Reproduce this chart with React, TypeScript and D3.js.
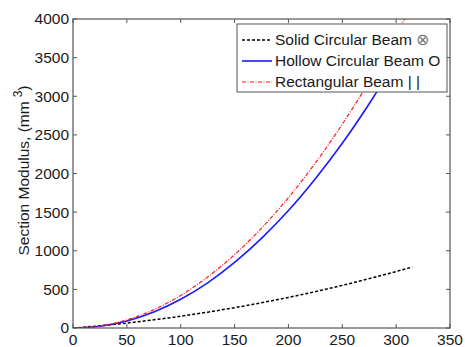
import React from "react";
import * as d3 from "d3";

// span values (x axis)
const xs = [0, 25, 50, 75, 100, 125, 150, 175, 200, 225, 250, 275, 300, 315];
// section modulus, mm^3
const solidCircular = [0, 28, 64, 106, 152, 205, 263, 327, 396, 471, 552, 639, 731, 790];
const hollowCircular = [0, 22, 91, 207, 372, 585, 849, 1160, 1520, 1932, 2391, 2903, 3464, 3820];
const rectangular = [0, 26, 105, 237, 422, 659, 950, 1292, 1688, 2136, 2638, 3191, 3798, 4190];

const xTicks = [0, 50, 100, 150, 200, 250, 300, 350];
const yTicks = [0, 500, 1000, 1500, 2000, 2500, 3000, 3500, 4000];

const seriesNames = ["Solid Circular Beam", "Hollow Circular Beam", "Rectangular Beam"];
const seriesMarks = ["\u2297", "O", "| |"];

const W = 465;
const H = 347;
const left = 73, right = 450, top = 19, bottom = 328;
const font = "Arial, 'Liberation Sans', sans-serif";

export default function App() {
  const x = d3.scaleLinear().domain([0, 350]).range([left, right]);
  const y = d3.scaleLinear().domain([0, 4000]).range([bottom, top]);

  const line = d3
    .line<[number, number]>()
    .x((d) => x(d[0]))
    .y((d) => y(d[1]))
    .curve(d3.curveMonotoneX);

  const series = [
    { values: solidCircular, color: "#000000", width: 1.5, dash: "3,2" },
    { values: hollowCircular, color: "#1a1aff", width: 1.6, dash: "none" },
    { values: rectangular, color: "#ff1a1a", width: 1.2, dash: "4,1.5,1,1.5" },
  ];

  const tick = 4;
  const axisColor = "#555";

  return (
    <svg
      width={W}
      height={H}
      style={{ position: "absolute", left: 0, top: 0, background: "#fff" }}
      fontFamily={font}
    >
      <defs>
        <clipPath id="plot">
          <rect x={left} y={top} width={right - left} height={bottom - top} />
        </clipPath>
      </defs>

      <g clipPath="url(#plot)">
        {series.map((s, i) => (
          <path
            key={i}
            d={line(xs.map((v, j) => [v, s.values[j]]) as [number, number][]) || ""}
            fill="none"
            stroke={s.color}
            strokeWidth={s.width}
            strokeDasharray={s.dash}
          />
        ))}
      </g>

      {/* frame */}
      <rect x={left} y={top} width={right - left} height={bottom - top} fill="none" stroke={axisColor} strokeWidth={1.2} />

      {xTicks.map((t) => (
        <g key={"x" + t}>
          <line x1={x(t)} x2={x(t)} y1={bottom} y2={bottom - tick} stroke={axisColor} />
          <line x1={x(t)} x2={x(t)} y1={top} y2={top + tick} stroke={axisColor} />
          <text x={x(t)} y={bottom + 17} textAnchor="middle" fontSize={15.5} fill="#1a1a1a">
            {t}
          </text>
        </g>
      ))}

      {yTicks.map((t) => (
        <g key={"y" + t}>
          <line x1={left} x2={left + tick} y1={y(t)} y2={y(t)} stroke={axisColor} />
          <line x1={right} x2={right - tick} y1={y(t)} y2={y(t)} stroke={axisColor} />
          <text x={left - 4} y={y(t)} dy="0.35em" textAnchor="end" fontSize={15.5} fill="#1a1a1a">
            {t}
          </text>
        </g>
      ))}

      <text
        transform={`translate(29,${(top + bottom) / 2 - 3}) rotate(-90)`}
        textAnchor="middle"
        fontSize={15.5}
        fill="#1a1a1a"
      >
        Section Modulus, (mm
        <tspan dx={4} dy={-7} fontSize={12}>3</tspan>
        <tspan dy={7}>)</tspan>
      </text>

      {/* legend */}
      <g>
        <rect x={237} y={24} width={210} height={68} fill="#fff" stroke={axisColor} strokeWidth={1} />
        {seriesNames.map((name, i) => {
          const s = series[i];
          const cy = 40 + i * 21;
          return (
            <g key={name}>
              <line x1={242} x2={272} y1={cy} y2={cy} stroke={s.color} strokeWidth={s.width} strokeDasharray={s.dash} />
              <text x={275} y={cy} dy="0.35em" fontSize={15.5} fill="#1a1a1a">
                {name}{" "}
                <tspan fill={i === 0 ? "#777" : "#1a1a1a"}>{seriesMarks[i]}</tspan>
              </text>
            </g>
          );
        })}
      </g>
    </svg>
  );
}
